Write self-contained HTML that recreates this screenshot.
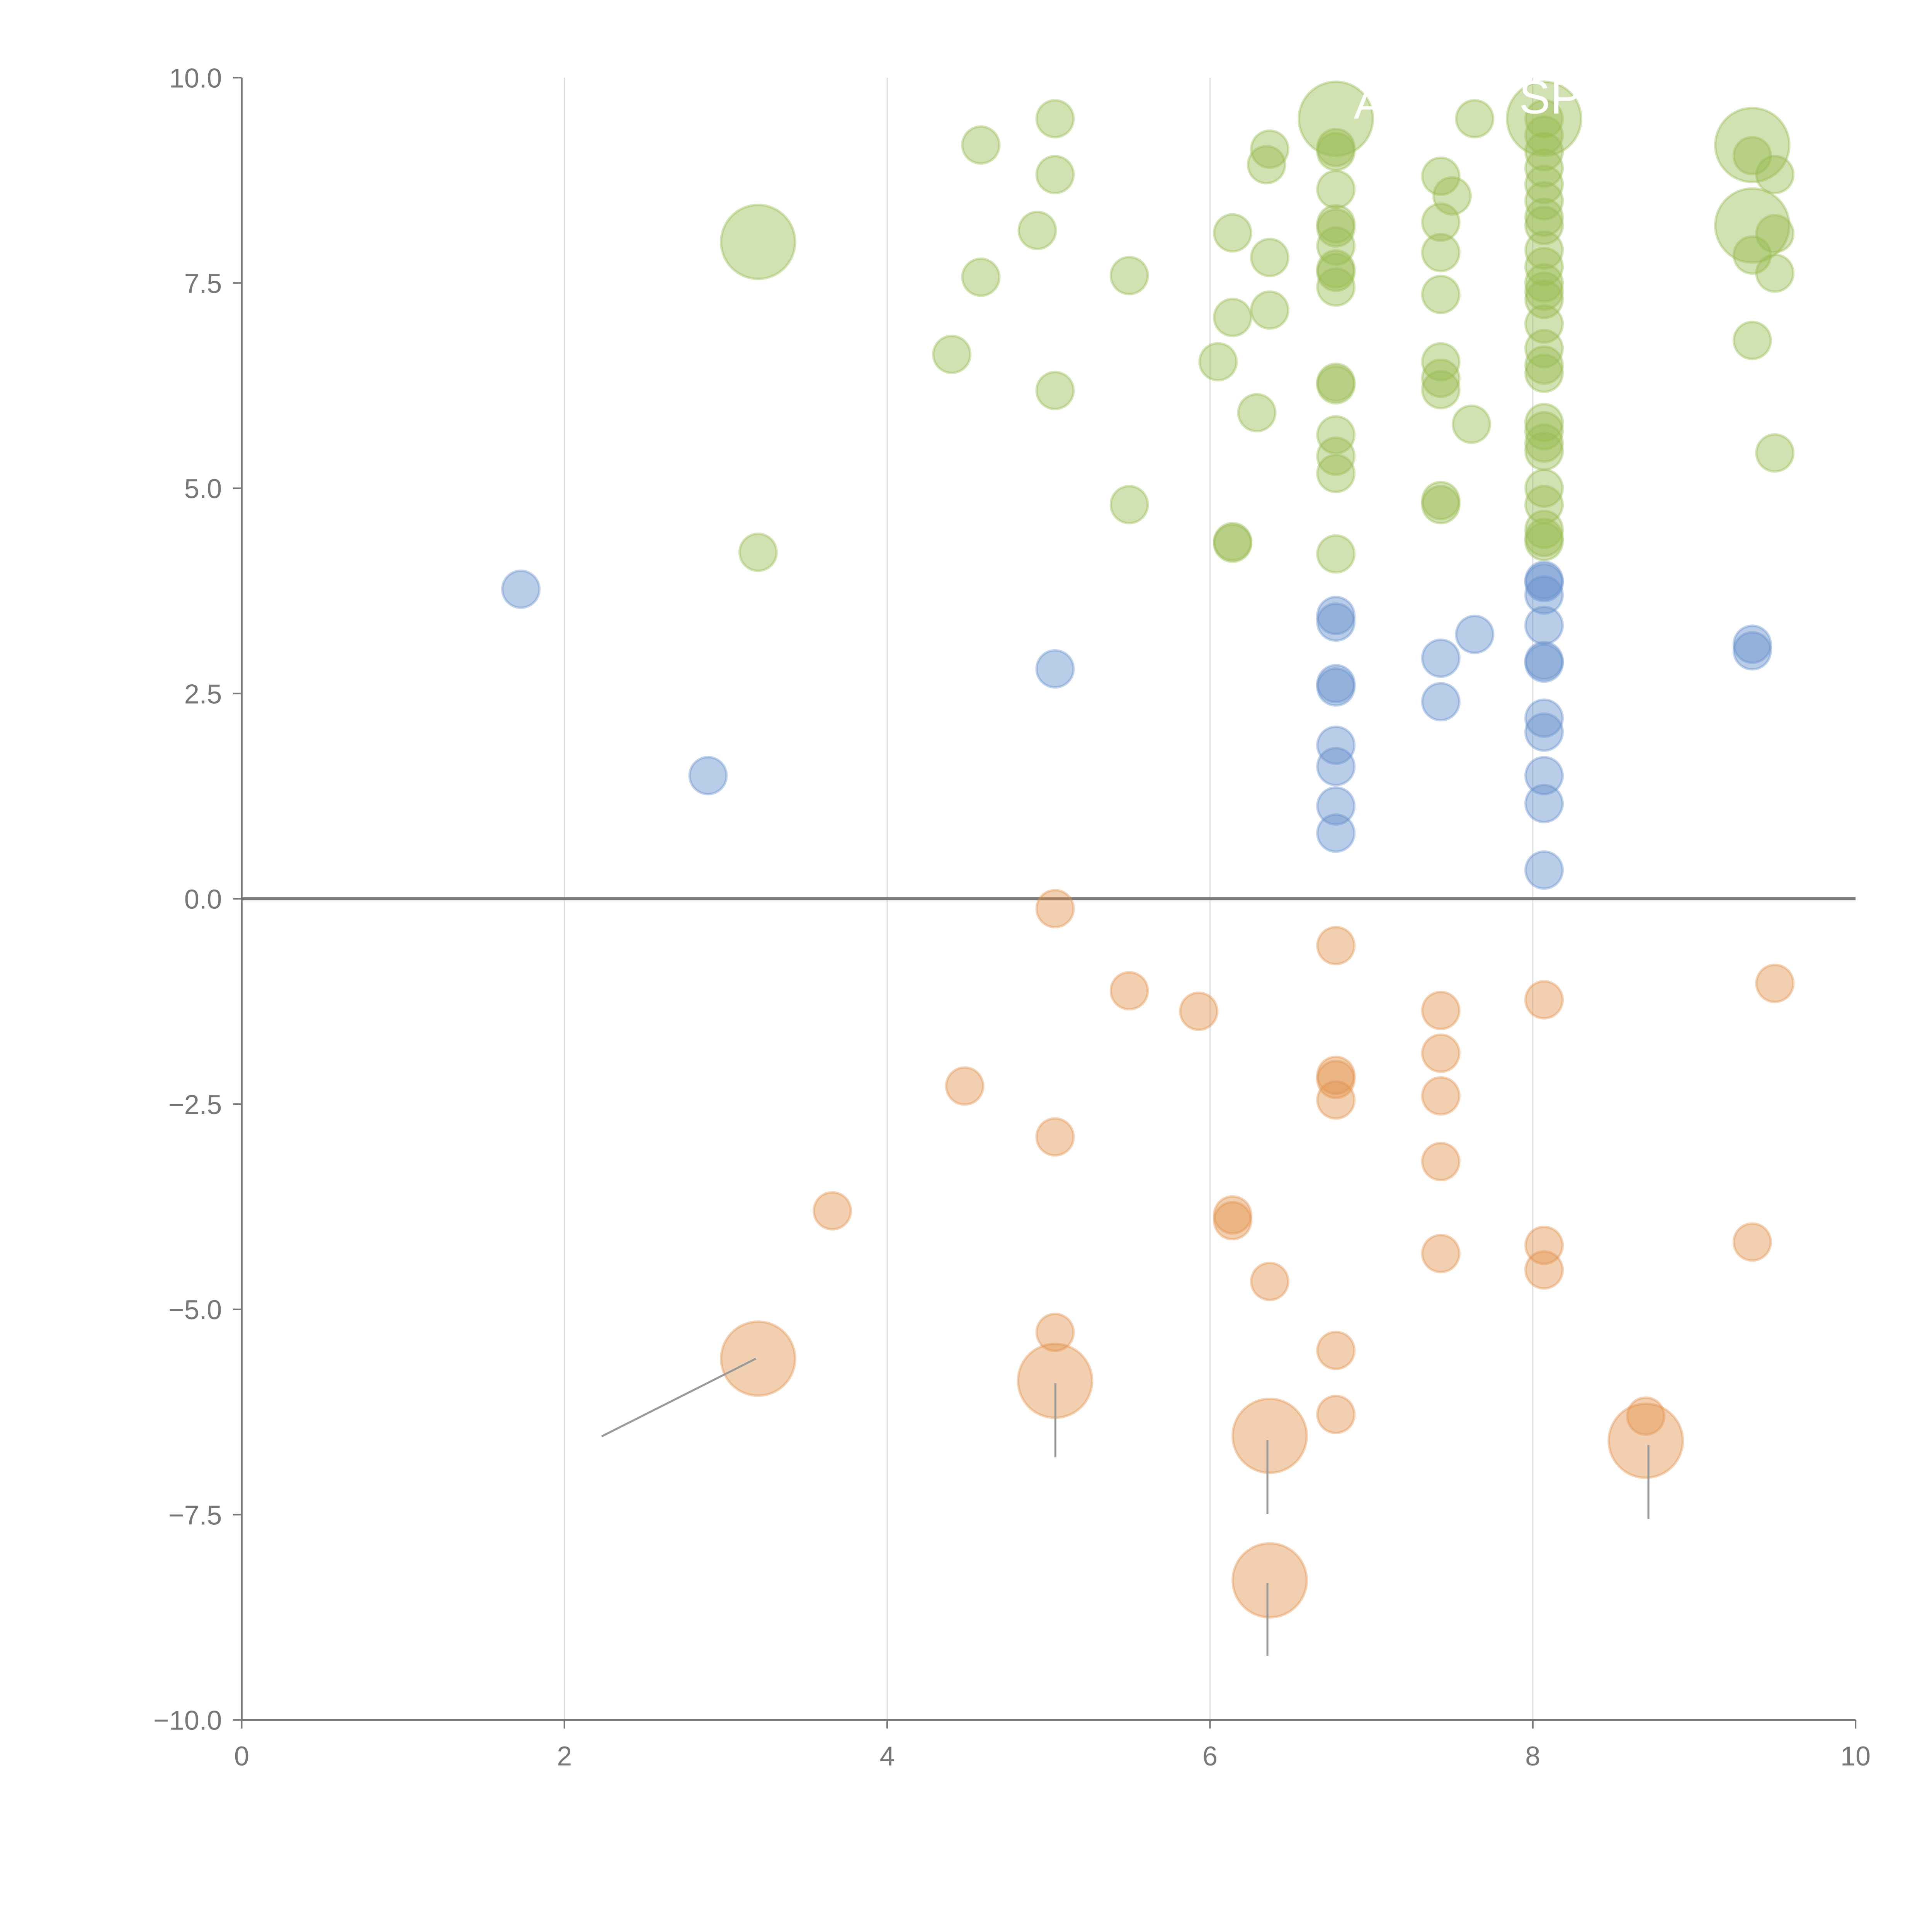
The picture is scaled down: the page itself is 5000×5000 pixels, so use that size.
<!DOCTYPE html>
<html><head><meta charset="utf-8"><style>html,body{margin:0;padding:0;background:#fff}svg{display:block}</style></head>
<body>
<svg id="chart" width="5000" height="5000" viewBox="0 0 1567 1567" xmlns="http://www.w3.org/2000/svg" font-family="Liberation Sans, sans-serif">
<g id="grid"></g>
<g id="axes"></g>
<g id="marks"></g>
<g id="leaders"></g>
<text x="1098" y="96" fill="#fff" font-size="36">A</text>
<text x="1232" y="92" fill="#fff" font-size="38">SP</text>
</svg>
<script>
const xTicks=[0,2,4,6,8,10];
const yTicks=[-10,-7.5,-5,-2.5,0,2.5,5,7.5,10];
const greenX=[3.2,3.2,4.58,4.58,4.4,4.93,5.04,5.04,5.04,5.5,5.5,6.05,6.14,6.14,6.14,6.14,6.29,6.35,6.37,6.37,6.37,
6.78,6.78,6.78,6.78,6.78,6.78,6.78,6.78,6.78,6.78,6.78,6.78,6.78,6.78,6.78,6.78,
7.43,7.43,7.43,7.43,7.43,7.43,7.43,7.43,7.43,7.5,7.62,7.64,
8.07,8.07,8.07,8.07,8.07,8.07,8.07,8.07,8.07,8.07,8.07,8.07,8.07,8.07,8.07,8.07,8.07,8.07,8.07,8.07,8.07,8.07,8.07,8.07,8.07,8.07,8.07,
9.36,9.36,9.36,9.36,9.36,9.5,9.5,9.5,9.5];
const greenY=[8.0,4.22,9.18,7.57,6.63,8.14,9.5,8.82,6.19,7.59,4.8,6.54,8.11,7.08,4.33,4.35,5.92,8.94,9.13,7.81,7.17,
9.5,9.15,9.1,8.64,8.22,8.17,7.95,7.67,7.63,7.45,6.29,6.26,5.65,5.39,5.18,4.2,
8.8,8.24,7.87,7.36,6.54,6.34,6.2,4.85,4.8,8.56,5.78,9.5,
9.5,9.5,9.3,9.1,8.9,8.7,8.5,8.3,8.2,7.9,7.7,7.5,7.4,7.3,7.0,6.7,6.5,6.4,5.8,5.7,5.55,5.45,5.0,4.8,4.5,4.4,4.35,
9.18,9.05,8.2,7.84,6.8,8.82,8.1,7.62,5.43];
const greenBig=[1,0,0,0,0,0,0,0,0,0,0,0,0,0,0,0,0,0,0,0,0, 1,0,0,0,0,0,0,0,0,0,0,0,0,0,0,0, 0,0,0,0,0,0,0,0,0,0,0,0,
1,0,0,0,0,0,0,0,0,0,0,0,0,0,0,0,0,0,0,0,0,0,0,0,0,0,0, 1,0,1,0,0,0,0,0,0];
const blueX=[1.73,2.89,5.04,6.78,6.78,6.78,6.78,6.78,6.78,6.78,6.78,7.43,7.43,7.64,8.07,8.07,8.07,8.07,8.07,8.07,8.07,8.07,8.07,8.07,8.07,9.36,9.36];
const blueY=[3.77,1.5,2.8,3.45,3.37,2.62,2.58,1.87,1.61,1.13,0.8,2.93,2.4,3.22,3.88,3.85,3.7,3.33,2.9,2.87,2.2,2.03,1.5,1.16,0.35,3.1,3.02];
const orangeX=[5.04,5.5,5.93,4.48,5.04,3.66,6.14,6.14,6.37,5.04,3.2,5.04,6.37,6.37,8.7,8.7,6.78,6.78,6.78,6.78,6.78,6.78,7.43,7.43,7.43,7.43,7.43,8.07,8.07,8.07,9.36,9.5];
const orangeY=[-0.12,-1.12,-1.37,-2.28,-2.9,-3.8,-3.85,-3.92,-4.66,-5.28,-5.6,-5.87,-6.54,-8.3,-6.3,-6.6,-0.57,-2.15,-2.2,-2.45,-5.5,-6.28,-1.36,-1.88,-2.4,-3.2,-4.32,-1.23,-4.22,-4.52,-4.18,-1.03];
const orangeBig=[0,0,0,0,0,0,0,0,0,0,1,1,1,1,0,1,0,0,0,0,0,0,0,0,0,0,0,0,0,0,0,0];

const NS="http://www.w3.org/2000/svg";
const X0=196,X1=1505,Y0=1395,Y1=63;
const sx=v=>X0+(v-0)/(10-0)*(X1-X0);
const sy=v=>Y0-(v+10)/20*(Y0-Y1);
function mk(tag,attrs,parent){const e=document.createElementNS(NS,tag);for(const k in attrs)e.setAttribute(k,attrs[k]);parent.appendChild(e);return e;}
const grid=document.getElementById('grid'),axes=document.getElementById('axes'),marks=document.getElementById('marks'),leaders=document.getElementById('leaders');
xTicks.forEach(t=>{
  if(t>0&&t<10){const g=mk('line',{x1:sx(t),x2:sx(t),y1:Y1,y2:Y0,stroke:'#ddd','stroke-width':1},grid);
  
  }
  const tk=mk('line',{x1:sx(t),x2:sx(t),y1:Y0,y2:Y0+7,stroke:'#777','stroke-width':1.3},axes);
  
  
  const tx=mk('text',{x:sx(t),y:Y0+37,'text-anchor':'middle','font-size':22,fill:'#777'},axes);
  tx.textContent=t;
  
  
});
yTicks.forEach(t=>{
  const tk=mk('line',{x1:X0-7,x2:X0,y1:sy(t),y2:sy(t),stroke:'#777','stroke-width':1.3},axes);
  
  
  const tx=mk('text',{x:X0-16,y:sy(t)+8,'text-anchor':'end','font-size':22,fill:'#777'},axes);
  tx.textContent=(t<0?'\u2212':'')+Math.abs(t).toFixed(1);
  
  
});
const ya=mk('line',{x1:X0,x2:X0,y1:Y1,y2:Y0,stroke:'#777','stroke-width':1.5},axes);


const xa=mk('line',{x1:X0,x2:X1,y1:Y0,y2:Y0,stroke:'#777','stroke-width':1.5},axes);


const zl=mk('line',{x1:X0,x2:X1,y1:sy(0),y2:sy(0),stroke:'#777','stroke-width':2.5},axes);



function series(xs,ys,big,color,name){
  xs.forEach((x,i)=>{
    const r=(big&&big[i])?30:15;
    const c=mk('circle',{cx:sx(x),cy:sy(ys[i]),r:r,fill:color,'fill-opacity':0.45,stroke:color,'stroke-opacity':0.4,'stroke-width':2},marks);
    
    
  });
}
series(greenX,greenY,greenBig,'#98bc52','green-bubble');
series(blueX,blueY,null,'#6690cc','blue-bubble');
series(orangeX,orangeY,orangeBig,'#e3944f','orange-bubble');

const leaderSegs=[[613,1102,488,1165],[856,1122,856,1182],[1028,1168,1028,1228],[1028,1284,1028,1343],[1337,1172,1337,1232]];
leaderSegs.forEach(s=>{
  const l=mk('line',{x1:s[0],y1:s[1],x2:s[2],y2:s[3],stroke:'#999','stroke-width':1.6},leaders);
  
  
});
</script>
</body></html>
